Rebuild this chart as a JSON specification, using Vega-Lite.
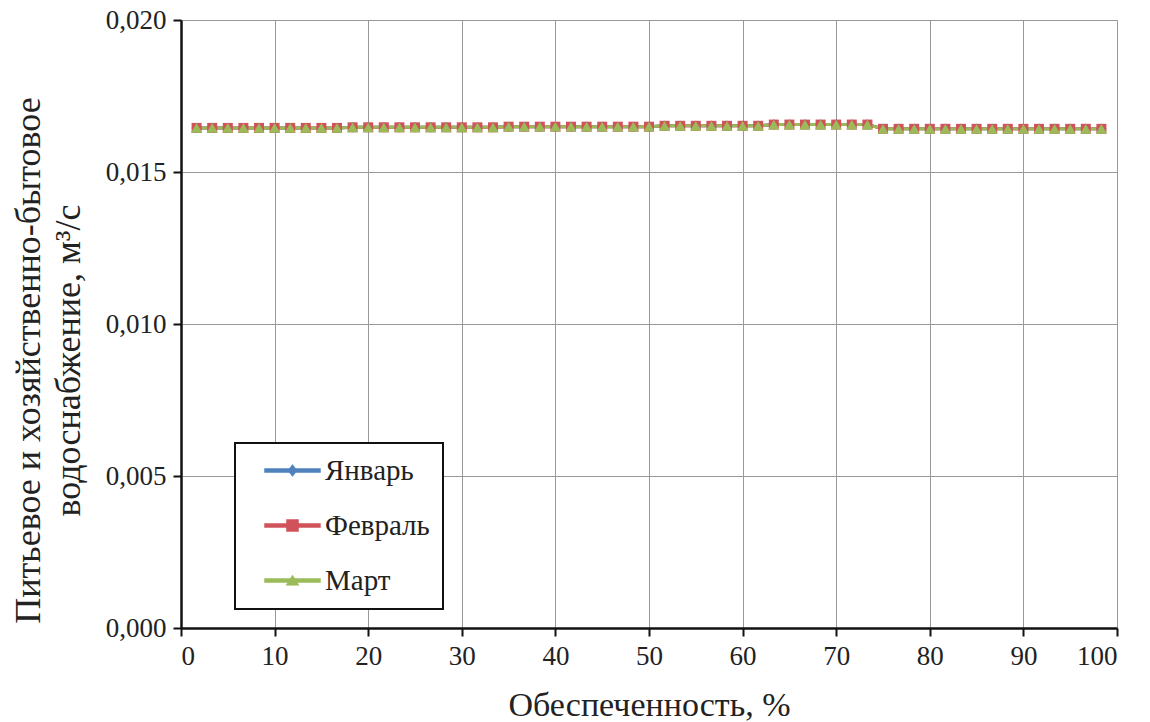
{
  "$schema": "https://vega.github.io/schema/vega-lite/v6.json",
  "width": 936,
  "height": 608,
  "autosize": {"type": "none"},
  "padding": {"left": 181, "top": 20, "right": 33, "bottom": 94},
  "background": "white",
  "config": {
    "font": "Liberation Serif",
    "view": {"stroke": null},
    "axis": {
      "labelFont": "Liberation Serif",
      "titleFont": "Liberation Serif",
      "labelColor": "#222",
      "titleColor": "#222",
      "labelFontSize": 27,
      "titleFontSize": 34,
      "titleFontWeight": "normal",
      "domainColor": "#111",
      "domainWidth": 2.5,
      "tickColor": "#111",
      "tickWidth": 2,
      "tickSize": 8,
      "gridColor": "#999",
      "gridWidth": 1,
      "labelPadding": 7
    },
    "legend": {
      "orient": "none", "legendX": 54, "legendY": 423,
      "padding": 13, "strokeColor": "#111", "strokeWidth": 2, "fillColor": "white", "cornerRadius": 0,
      "labelFont": "Liberation Serif", "labelFontSize": 29, "labelColor": "#222",
      "symbolSize": 576, "labelOffset": 48, "rowPadding": 25, "symbolOpacity": 1, "symbolStrokeWidth": 0.5
    }
  },
  "data": {
    "values": [
      {"x": 1.667, "y": 0.01645, "s": "Январь"}, {"x": 3.333, "y": 0.01645, "s": "Январь"}, {"x": 5, "y": 0.01645, "s": "Январь"}, {"x": 6.667, "y": 0.01645, "s": "Январь"}, {"x": 8.333, "y": 0.01645, "s": "Январь"},
      {"x": 10, "y": 0.01645, "s": "Январь"}, {"x": 11.667, "y": 0.01645, "s": "Январь"}, {"x": 13.333, "y": 0.01645, "s": "Январь"}, {"x": 15, "y": 0.01645, "s": "Январь"}, {"x": 16.667, "y": 0.01645, "s": "Январь"},
      {"x": 18.333, "y": 0.01647, "s": "Январь"}, {"x": 20, "y": 0.01647, "s": "Январь"}, {"x": 21.667, "y": 0.01647, "s": "Январь"}, {"x": 23.333, "y": 0.01647, "s": "Январь"}, {"x": 25, "y": 0.01647, "s": "Январь"},
      {"x": 26.667, "y": 0.01647, "s": "Январь"}, {"x": 28.333, "y": 0.01647, "s": "Январь"}, {"x": 30, "y": 0.01647, "s": "Январь"}, {"x": 31.667, "y": 0.01647, "s": "Январь"}, {"x": 33.333, "y": 0.01647, "s": "Январь"},
      {"x": 35, "y": 0.01649, "s": "Январь"}, {"x": 36.667, "y": 0.01649, "s": "Январь"}, {"x": 38.333, "y": 0.01649, "s": "Январь"}, {"x": 40, "y": 0.01649, "s": "Январь"}, {"x": 41.667, "y": 0.01649, "s": "Январь"},
      {"x": 43.333, "y": 0.01649, "s": "Январь"}, {"x": 45, "y": 0.01649, "s": "Январь"}, {"x": 46.667, "y": 0.01649, "s": "Январь"}, {"x": 48.333, "y": 0.01649, "s": "Январь"}, {"x": 50, "y": 0.01649, "s": "Январь"},
      {"x": 51.667, "y": 0.01652, "s": "Январь"}, {"x": 53.333, "y": 0.01652, "s": "Январь"}, {"x": 55, "y": 0.01652, "s": "Январь"}, {"x": 56.667, "y": 0.01652, "s": "Январь"}, {"x": 58.333, "y": 0.01652, "s": "Январь"},
      {"x": 60, "y": 0.01652, "s": "Январь"}, {"x": 61.667, "y": 0.01652, "s": "Январь"}, {"x": 63.333, "y": 0.01656, "s": "Январь"}, {"x": 65, "y": 0.01656, "s": "Январь"}, {"x": 66.667, "y": 0.01656, "s": "Январь"},
      {"x": 68.333, "y": 0.01656, "s": "Январь"}, {"x": 70, "y": 0.01656, "s": "Январь"}, {"x": 71.667, "y": 0.01656, "s": "Январь"}, {"x": 73.333, "y": 0.01656, "s": "Январь"}, {"x": 75, "y": 0.01642, "s": "Январь"},
      {"x": 76.667, "y": 0.01642, "s": "Январь"}, {"x": 78.333, "y": 0.01642, "s": "Январь"}, {"x": 80, "y": 0.01642, "s": "Январь"}, {"x": 81.667, "y": 0.01642, "s": "Январь"}, {"x": 83.333, "y": 0.01642, "s": "Январь"},
      {"x": 85, "y": 0.01642, "s": "Январь"}, {"x": 86.667, "y": 0.01642, "s": "Январь"}, {"x": 88.333, "y": 0.01642, "s": "Январь"}, {"x": 90, "y": 0.01642, "s": "Январь"}, {"x": 91.667, "y": 0.01642, "s": "Январь"},
      {"x": 93.333, "y": 0.01642, "s": "Январь"}, {"x": 95, "y": 0.01642, "s": "Январь"}, {"x": 96.667, "y": 0.01642, "s": "Январь"}, {"x": 98.333, "y": 0.01642, "s": "Январь"},

      {"x": 1.667, "y": 0.01645, "s": "Февраль"}, {"x": 3.333, "y": 0.01645, "s": "Февраль"}, {"x": 5, "y": 0.01645, "s": "Февраль"}, {"x": 6.667, "y": 0.01645, "s": "Февраль"}, {"x": 8.333, "y": 0.01645, "s": "Февраль"},
      {"x": 10, "y": 0.01645, "s": "Февраль"}, {"x": 11.667, "y": 0.01645, "s": "Февраль"}, {"x": 13.333, "y": 0.01645, "s": "Февраль"}, {"x": 15, "y": 0.01645, "s": "Февраль"}, {"x": 16.667, "y": 0.01645, "s": "Февраль"},
      {"x": 18.333, "y": 0.01647, "s": "Февраль"}, {"x": 20, "y": 0.01647, "s": "Февраль"}, {"x": 21.667, "y": 0.01647, "s": "Февраль"}, {"x": 23.333, "y": 0.01647, "s": "Февраль"}, {"x": 25, "y": 0.01647, "s": "Февраль"},
      {"x": 26.667, "y": 0.01647, "s": "Февраль"}, {"x": 28.333, "y": 0.01647, "s": "Февраль"}, {"x": 30, "y": 0.01647, "s": "Февраль"}, {"x": 31.667, "y": 0.01647, "s": "Февраль"}, {"x": 33.333, "y": 0.01647, "s": "Февраль"},
      {"x": 35, "y": 0.01649, "s": "Февраль"}, {"x": 36.667, "y": 0.01649, "s": "Февраль"}, {"x": 38.333, "y": 0.01649, "s": "Февраль"}, {"x": 40, "y": 0.01649, "s": "Февраль"}, {"x": 41.667, "y": 0.01649, "s": "Февраль"},
      {"x": 43.333, "y": 0.01649, "s": "Февраль"}, {"x": 45, "y": 0.01649, "s": "Февраль"}, {"x": 46.667, "y": 0.01649, "s": "Февраль"}, {"x": 48.333, "y": 0.01649, "s": "Февраль"}, {"x": 50, "y": 0.01649, "s": "Февраль"},
      {"x": 51.667, "y": 0.01652, "s": "Февраль"}, {"x": 53.333, "y": 0.01652, "s": "Февраль"}, {"x": 55, "y": 0.01652, "s": "Февраль"}, {"x": 56.667, "y": 0.01652, "s": "Февраль"}, {"x": 58.333, "y": 0.01652, "s": "Февраль"},
      {"x": 60, "y": 0.01652, "s": "Февраль"}, {"x": 61.667, "y": 0.01652, "s": "Февраль"}, {"x": 63.333, "y": 0.01656, "s": "Февраль"}, {"x": 65, "y": 0.01656, "s": "Февраль"}, {"x": 66.667, "y": 0.01656, "s": "Февраль"},
      {"x": 68.333, "y": 0.01656, "s": "Февраль"}, {"x": 70, "y": 0.01656, "s": "Февраль"}, {"x": 71.667, "y": 0.01656, "s": "Февраль"}, {"x": 73.333, "y": 0.01656, "s": "Февраль"}, {"x": 75, "y": 0.01642, "s": "Февраль"},
      {"x": 76.667, "y": 0.01642, "s": "Февраль"}, {"x": 78.333, "y": 0.01642, "s": "Февраль"}, {"x": 80, "y": 0.01642, "s": "Февраль"}, {"x": 81.667, "y": 0.01642, "s": "Февраль"}, {"x": 83.333, "y": 0.01642, "s": "Февраль"},
      {"x": 85, "y": 0.01642, "s": "Февраль"}, {"x": 86.667, "y": 0.01642, "s": "Февраль"}, {"x": 88.333, "y": 0.01642, "s": "Февраль"}, {"x": 90, "y": 0.01642, "s": "Февраль"}, {"x": 91.667, "y": 0.01642, "s": "Февраль"},
      {"x": 93.333, "y": 0.01642, "s": "Февраль"}, {"x": 95, "y": 0.01642, "s": "Февраль"}, {"x": 96.667, "y": 0.01642, "s": "Февраль"}, {"x": 98.333, "y": 0.01642, "s": "Февраль"},

      {"x": 1.667, "y": 0.01645, "s": "Март"}, {"x": 3.333, "y": 0.01645, "s": "Март"}, {"x": 5, "y": 0.01645, "s": "Март"}, {"x": 6.667, "y": 0.01645, "s": "Март"}, {"x": 8.333, "y": 0.01645, "s": "Март"},
      {"x": 10, "y": 0.01645, "s": "Март"}, {"x": 11.667, "y": 0.01645, "s": "Март"}, {"x": 13.333, "y": 0.01645, "s": "Март"}, {"x": 15, "y": 0.01645, "s": "Март"}, {"x": 16.667, "y": 0.01645, "s": "Март"},
      {"x": 18.333, "y": 0.01647, "s": "Март"}, {"x": 20, "y": 0.01647, "s": "Март"}, {"x": 21.667, "y": 0.01647, "s": "Март"}, {"x": 23.333, "y": 0.01647, "s": "Март"}, {"x": 25, "y": 0.01647, "s": "Март"},
      {"x": 26.667, "y": 0.01647, "s": "Март"}, {"x": 28.333, "y": 0.01647, "s": "Март"}, {"x": 30, "y": 0.01647, "s": "Март"}, {"x": 31.667, "y": 0.01647, "s": "Март"}, {"x": 33.333, "y": 0.01647, "s": "Март"},
      {"x": 35, "y": 0.01649, "s": "Март"}, {"x": 36.667, "y": 0.01649, "s": "Март"}, {"x": 38.333, "y": 0.01649, "s": "Март"}, {"x": 40, "y": 0.01649, "s": "Март"}, {"x": 41.667, "y": 0.01649, "s": "Март"},
      {"x": 43.333, "y": 0.01649, "s": "Март"}, {"x": 45, "y": 0.01649, "s": "Март"}, {"x": 46.667, "y": 0.01649, "s": "Март"}, {"x": 48.333, "y": 0.01649, "s": "Март"}, {"x": 50, "y": 0.01649, "s": "Март"},
      {"x": 51.667, "y": 0.01652, "s": "Март"}, {"x": 53.333, "y": 0.01652, "s": "Март"}, {"x": 55, "y": 0.01652, "s": "Март"}, {"x": 56.667, "y": 0.01652, "s": "Март"}, {"x": 58.333, "y": 0.01652, "s": "Март"},
      {"x": 60, "y": 0.01652, "s": "Март"}, {"x": 61.667, "y": 0.01652, "s": "Март"}, {"x": 63.333, "y": 0.01656, "s": "Март"}, {"x": 65, "y": 0.01656, "s": "Март"}, {"x": 66.667, "y": 0.01656, "s": "Март"},
      {"x": 68.333, "y": 0.01656, "s": "Март"}, {"x": 70, "y": 0.01656, "s": "Март"}, {"x": 71.667, "y": 0.01656, "s": "Март"}, {"x": 73.333, "y": 0.01656, "s": "Март"}, {"x": 75, "y": 0.01642, "s": "Март"},
      {"x": 76.667, "y": 0.01642, "s": "Март"}, {"x": 78.333, "y": 0.01642, "s": "Март"}, {"x": 80, "y": 0.01642, "s": "Март"}, {"x": 81.667, "y": 0.01642, "s": "Март"}, {"x": 83.333, "y": 0.01642, "s": "Март"},
      {"x": 85, "y": 0.01642, "s": "Март"}, {"x": 86.667, "y": 0.01642, "s": "Март"}, {"x": 88.333, "y": 0.01642, "s": "Март"}, {"x": 90, "y": 0.01642, "s": "Март"}, {"x": 91.667, "y": 0.01642, "s": "Март"},
      {"x": 93.333, "y": 0.01642, "s": "Март"}, {"x": 95, "y": 0.01642, "s": "Март"}, {"x": 96.667, "y": 0.01642, "s": "Март"}, {"x": 98.333, "y": 0.01642, "s": "Март"}
    ]
  },
  "encoding": {
    "x": {
      "field": "x", "type": "quantitative",
      "scale": {"domain": [0, 100], "nice": false},
      "axis": {
        "title": "Обеспеченность, %",
        "values": [0, 10, 20, 30, 40, 50, 60, 70, 80, 90, 100],
        "titlePadding": 19
      }
    },
    "y": {
      "field": "y", "type": "quantitative",
      "scale": {"domain": [0, 0.02], "nice": false, "zero": true},
      "axis": {
        "title": ["Питьевое и хозяйственно-бытовое", "водоснабжение, м³/с"],
        "values": [0, 0.005, 0.01, 0.015, 0.02],
        "labelExpr": "replace(format(datum.value, '.3f'), '.', ',')",
        "titleX": -153,
        "titleY": 340,
        "titleAngle": -90,
        "titleAlign": "center",
        "titleBaseline": "middle",
        "titleFontSize": 36,
        "titleLineHeight": 40
      }
    },
    "color": {
      "field": "s", "type": "nominal",
      "scale": {"domain": ["Январь", "Февраль", "Март"], "range": ["#4F81BD", "#D0525A", "#9BBB59"]},
      "legend": {"title": null}
    }
  },
  "layer": [
    {
      "mark": {"type": "line", "strokeWidth": 3}
    },
    {
      "mark": {"type": "point", "filled": true, "opacity": 0, "size": 10},
      "encoding": {
        "shape": {
          "field": "s", "type": "nominal",
          "scale": {
            "domain": ["Январь", "Февраль", "Март"],
            "range": [
              "M0.17,-0.17H4.83V0.17H0.17ZM2.5,-0.5L2.88,0L2.5,0.5L2.12,0Z",
              "M0.17,-0.17H4.83V0.17H0.17ZM2,-0.5H3V0.5H2Z",
              "M0.17,-0.17H4.83V0.17H0.17ZM2.5,-0.45L3.04,0.4H1.96Z"
            ]
          },
          "legend": {"title": null}
        }
      }
    },
    {
      "transform": [{"filter": "datum.s === 'Январь'"}],
      "mark": {"type": "point", "filled": true, "opacity": 1, "size": 110, "shape": "diamond"}
    },
    {
      "transform": [{"filter": "datum.s === 'Февраль'"}],
      "mark": {"type": "point", "filled": true, "opacity": 1, "size": 100, "shape": "square"}
    },
    {
      "transform": [{"filter": "datum.s === 'Март'"}],
      "mark": {"type": "point", "filled": true, "opacity": 1, "size": 125, "shape": "triangle-up"}
    }
  ]
}
